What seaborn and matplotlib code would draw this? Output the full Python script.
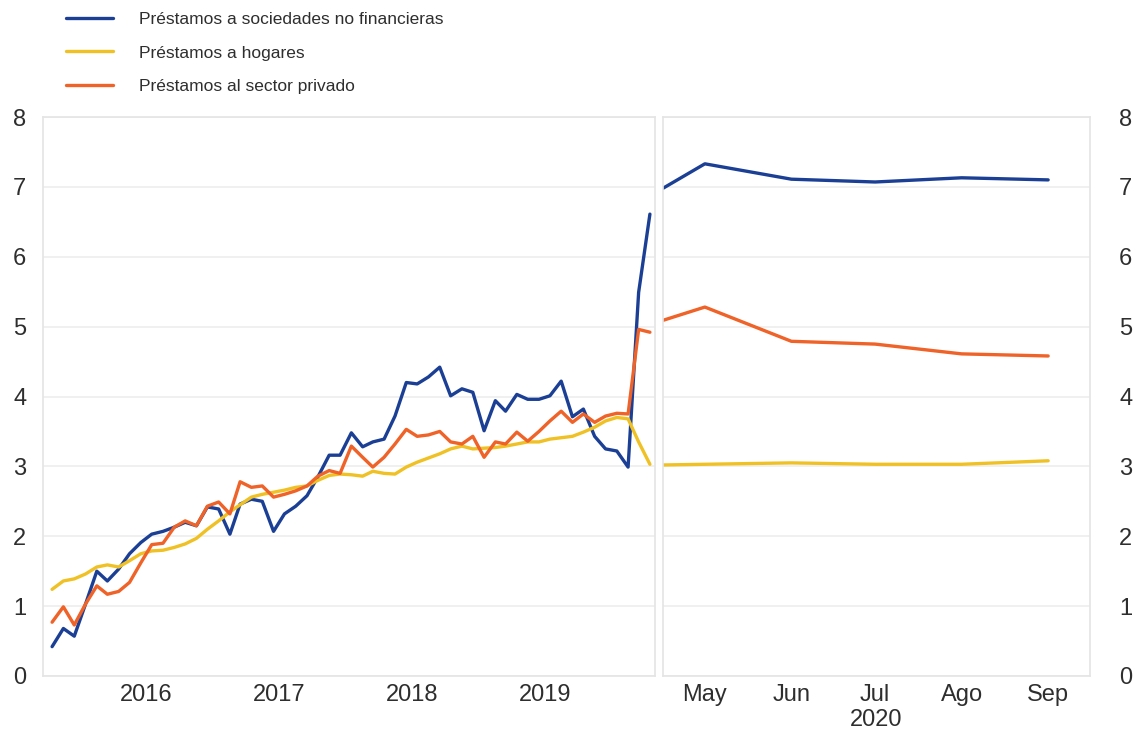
import matplotlib
matplotlib.use("Agg")
import matplotlib.pyplot as plt
import matplotlib.dates as mdates
import seaborn as sns
import pandas as pd

# left panel: monthly observations, Oct 2015 - Apr 2020
fechas = pd.date_range("2015-10-01", periods=55, freq="MS") + pd.Timedelta(days=14)
sociedades = [0.42, 0.68, 0.57, 1.03, 1.50, 1.36, 1.53, 1.75, 1.91, 2.03,
              2.07, 2.13, 2.20, 2.15, 2.42, 2.39, 2.03, 2.46, 2.53, 2.50,
              2.07, 2.32, 2.43, 2.58, 2.85, 3.16, 3.16, 3.48, 3.28, 3.35,
              3.39, 3.72, 4.20, 4.18, 4.28, 4.42, 4.01, 4.11, 4.06, 3.51,
              3.94, 3.79, 4.03, 3.96, 3.96, 4.01, 4.22, 3.71, 3.82, 3.43,
              3.25, 3.22, 2.99, 5.49, 6.61]
hogares = [1.24, 1.36, 1.39, 1.46, 1.56, 1.59, 1.56, 1.65, 1.75, 1.79,
           1.80, 1.84, 1.89, 1.97, 2.10, 2.22, 2.35, 2.45, 2.56, 2.60,
           2.63, 2.66, 2.70, 2.72, 2.80, 2.87, 2.89, 2.88, 2.86, 2.93,
           2.90, 2.89, 2.99, 3.06, 3.12, 3.18, 3.25, 3.29, 3.25, 3.26,
           3.27, 3.29, 3.32, 3.35, 3.35, 3.39, 3.41, 3.43, 3.49, 3.56,
           3.65, 3.70, 3.68, 3.35, 3.03]
privado = [0.77, 0.99, 0.73, 1.03, 1.29, 1.17, 1.21, 1.34, 1.62, 1.88,
           1.90, 2.13, 2.22, 2.15, 2.43, 2.49, 2.32, 2.78, 2.70, 2.72,
           2.56, 2.60, 2.65, 2.72, 2.86, 2.94, 2.90, 3.29, 3.13, 2.99,
           3.13, 3.32, 3.53, 3.43, 3.45, 3.50, 3.35, 3.32, 3.43, 3.13,
           3.35, 3.32, 3.49, 3.36, 3.50, 3.65, 3.79, 3.63, 3.75, 3.63,
           3.72, 3.76, 3.75, 4.96, 4.92]

# right panel: end of April, then May - Sep 2020
fechas_2020 = pd.to_datetime(["2020-04-30", "2020-05-15", "2020-06-15",
                              "2020-07-15", "2020-08-15", "2020-09-15"])
sociedades_2020 = [6.98, 7.33, 7.11, 7.07, 7.13, 7.10]
hogares_2020 = [3.02, 3.03, 3.05, 3.03, 3.03, 3.08]
privado_2020 = [5.09, 5.28, 4.79, 4.75, 4.61, 4.58]

meses_2020 = ["May", "Jun", "Jul", "Ago", "Sep"]
anios = ["2016", "2017", "2018", "2019"]

nombres = ["Préstamos a sociedades no financieras",
           "Préstamos a hogares",
           "Préstamos al sector privado"]
colores = ["#1b3f94", "#f0c124", "#ef6228"]

sns.set_style("white")
plt.rcParams["font.family"] = ["Liberation Sans", "DejaVu Sans"]
texto = "#2e2e2e"
gris = "#ededed"

fig = plt.figure(figsize=(11.37, 7.42), dpi=100)
ax1 = fig.add_axes([43 / 1137, 1 - 676 / 742, 612 / 1137, 559 / 742])
ax2 = fig.add_axes([663 / 1137, 1 - 676 / 742, 427 / 1137, 559 / 742])

izq = pd.DataFrame({"fecha": fechas, nombres[0]: sociedades,
                    nombres[1]: hogares, nombres[2]: privado})
der = pd.DataFrame({"fecha": fechas_2020, nombres[0]: sociedades_2020,
                    nombres[1]: hogares_2020, nombres[2]: privado_2020})

for nombre, color in zip(nombres, colores):
    sns.lineplot(data=izq, x="fecha", y=nombre, ax=ax1, color=color,
                 linewidth=2.4, label=nombre)
    sns.lineplot(data=der, x="fecha", y=nombre, ax=ax2, color=color,
                 linewidth=2.4, legend=False)

for ax in (ax1, ax2):
    ax.set_ylim(0, 8)
    ax.set_yticks(range(0, 9))
    ax.grid(axis="y", color=gris, linewidth=1.2)
    ax.set_axisbelow(True)
    for sp in ax.spines.values():
        sp.set_color("#e4e4e4")
        sp.set_linewidth(1.2)
    ax.set_xlabel("")
    ax.set_ylabel("")
    ax.tick_params(axis="both", colors=texto, labelsize=17, length=0)

# left panel x axis: year labels at mid-year, small ticks at year starts
ax1.set_xlim(pd.Timestamp("2015-09-20"), pd.Timestamp("2020-04-29"))
ax1.set_xticks([pd.Timestamp(a + "-07-01") for a in anios])
ax1.set_xticklabels(anios)
ax1.xaxis.set_minor_locator(mdates.YearLocator())
ax1.tick_params(axis="x", which="minor", length=6, color="#e4e4e4", width=1.2)
ax1.tick_params(axis="x", which="major", pad=6)
ax1.tick_params(axis="y", pad=12)
ax1.legend_.remove()

# right panel x axis
ax2.set_xlim(pd.Timestamp("2020-04-30"), pd.Timestamp("2020-09-30"))
ax2.set_xticks(fechas_2020[1:])
ax2.set_xticklabels(meses_2020)
ax2.tick_params(axis="x", pad=6)
ax2.yaxis.tick_right()
ax2.tick_params(axis="y", pad=21)
ax2.set_xlabel("2020", fontsize=17, color=texto, labelpad=2)

handles, labels = ax1.get_legend_handles_labels()
fig.legend(handles, labels, loc="upper left",
           bbox_to_anchor=(66 / 1137, 1 - 12 / 742), frameon=False,
           fontsize=12.5, handlelength=2.7, handletextpad=1.5,
           labelspacing=1.05, borderpad=0, borderaxespad=0,
           labelcolor=texto)

fig.savefig("out.png", dpi=100, facecolor="white")
